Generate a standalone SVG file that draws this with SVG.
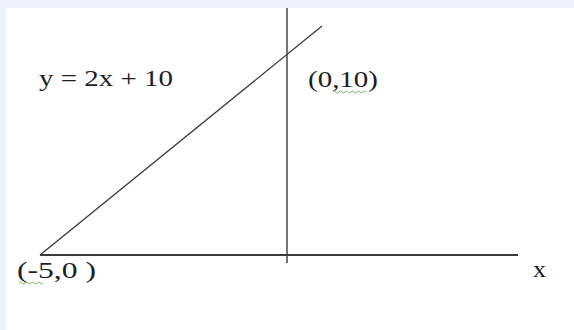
<svg xmlns="http://www.w3.org/2000/svg" width="574" height="330" viewBox="0 0 574 330">
<style>
.ln{stroke:#3a3a3a;fill:none}
.t{font-family:"Liberation Serif","Times New Roman",serif;font-size:23px;fill:#1e1e1e}
.sq{stroke:#7bb369;stroke-width:1;fill:none}
</style>
<rect x="0" y="0" width="574" height="330" fill="#eff1fb"/>
<rect x="6" y="8" width="568" height="322" fill="#ffffff"/>
<g id="connectors">
<line class="ln" x1="287" y1="8" x2="287" y2="263" stroke-width="1.4"/>
<line class="ln" x1="40" y1="255" x2="518" y2="255" stroke-width="2" stroke="#505050"/>
<line class="ln" x1="40" y1="255" x2="322" y2="26" stroke-width="1.3"/>
</g>
<g id="equation"><text class="t" x="39" y="86" textLength="134" lengthAdjust="spacingAndGlyphs">y = 2x + 10</text></g>
<g id="point-0-10"><text class="t" x="308" y="87" textLength="70" lengthAdjust="spacingAndGlyphs">(0,10)</text>
<path class="sq" d="M333 92 q1.5 -2 3 0 t3 0 t3 0 t3 0 t3 0 t3 0 t3 0 t3 0 t3 0 t3 0 t3 0"/></g>
<g id="point-m5-0"><text class="t" x="17" y="278" textLength="79" lengthAdjust="spacingAndGlyphs">(-5,0 )</text>
<path class="sq" d="M19 283 q1.5 -2 3 0 t3 0 t3 0 t3 0 t3 0 t3 0 t3 0 t3 0"/></g>
<g id="x-label"><text class="t" x="533" y="277" textLength="13" lengthAdjust="spacingAndGlyphs">x</text></g>
</svg>
